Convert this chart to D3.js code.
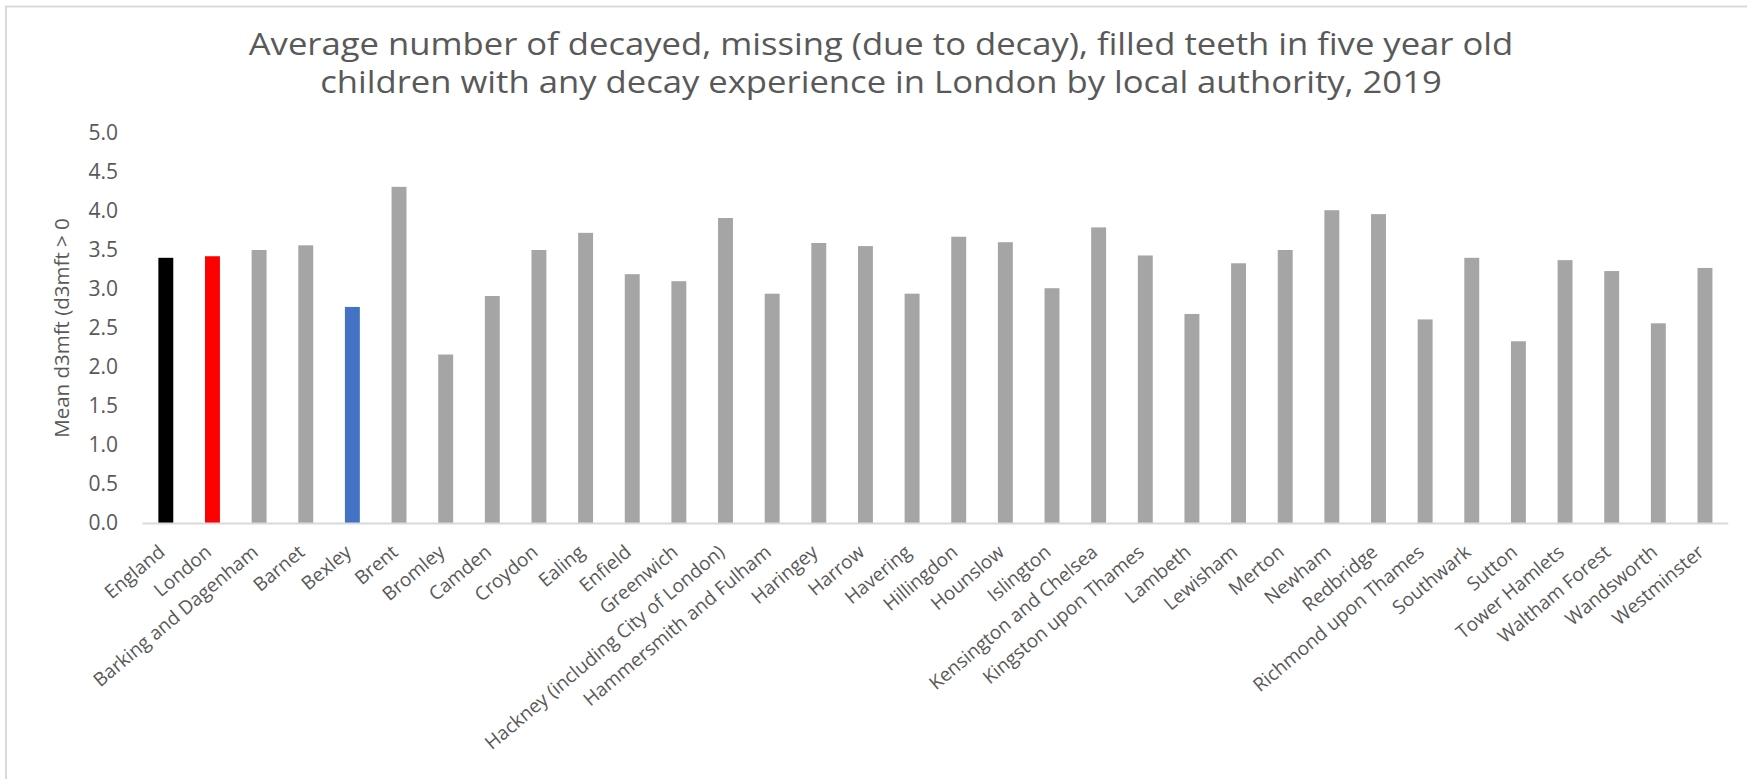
<!DOCTYPE html>
<html>
<head>
<meta charset="utf-8">
<script src="https://cdn.jsdelivr.net/npm/d3@7/dist/d3.min.js"></script>
<style>
  html, body { margin: 0; padding: 0; background: #ffffff; }
  svg { display: block; }
  text { font-family: "Open Sans", "Noto Sans", sans-serif; fill: #595959; }
</style>
</head>
<body>
<svg id="chart" width="1747" height="779"></svg>
<script>
// Local authorities (plus England and London comparators)
const categories = [
  "England", "London", "Barking and Dagenham", "Barnet", "Bexley", "Brent",
  "Bromley", "Camden", "Croydon", "Ealing", "Enfield", "Greenwich",
  "Hackney (including City of London)", "Hammersmith and Fulham", "Haringey",
  "Harrow", "Havering", "Hillingdon", "Hounslow", "Islington",
  "Kensington and Chelsea", "Kingston upon Thames", "Lambeth", "Lewisham",
  "Merton", "Newham", "Redbridge", "Richmond upon Thames", "Southwark",
  "Sutton", "Tower Hamlets", "Waltham Forest", "Wandsworth", "Westminster"
];

// Mean d3mft among five year olds with any decay experience, 2019
const values = [
  3.40, 3.42, 3.50, 3.56, 2.77, 4.31,
  2.16, 2.91, 3.50, 3.72, 3.19, 3.10,
  3.91, 2.94, 3.59,
  3.55, 2.94, 3.67, 3.60, 3.01,
  3.79, 3.43, 2.68, 3.33,
  3.50, 4.01, 3.96, 2.61, 3.40,
  2.33, 3.37, 3.23, 2.56, 3.27
];

const yTickValues = [0, 0.5, 1, 1.5, 2, 2.5, 3, 3.5, 4, 4.5, 5];

const titleLines = [
  "Average number of decayed, missing (due to decay), filled teeth in five year old",
  "children with any decay experience in London by local authority, 2019"
];
const yAxisTitle = "Mean d3mft (d3mft > 0";

// Bar colours: comparators and Bexley are picked out, the rest are grey
const highlight = { "England": "#000000", "London": "#ff0000", "Bexley": "#4472c4" };
const defaultBar = "#a5a5a5";

const FONT = "'Open Sans', 'Noto Sans', sans-serif";
const svg = d3.select("#chart");

// Frame lines (left and top)
svg.append("path")
  .attr("d", "M6,779 L6,6.5 L1747,6.5")
  .attr("fill", "none")
  .attr("stroke", "#d9d9d9")
  .attr("stroke-width", 2);

const plot = { left: 142.5, right: 1728.3, top: 133, bottom: 523 };

const x = d3.scaleBand()
  .domain(categories)
  .range([plot.left, plot.right])
  .paddingInner(0.68)
  .paddingOuter(0.34);

const y = d3.scaleLinear()
  .domain([0, 5])
  .range([plot.bottom, plot.top]);

// Title: two centred lines, set slightly wide
const titleWiden = 1.117;
titleLines.forEach((line, i) => {
  const t = svg.append("text")
    .attr("x", 881)
    .attr("y", 55 + i * 38)
    .attr("text-anchor", "middle")
    .style("font-size", "31px")
    .text(line);
  const len = t.node().getComputedTextLength();
  t.attr("textLength", len * titleWiden).attr("lengthAdjust", "spacingAndGlyphs");
});

// Y axis tick labels
const yAxis = d3.axisLeft(y)
  .tickValues(yTickValues)
  .tickFormat(d3.format(".1f"))
  .tickSize(0)
  .tickPadding(0);
const gy = svg.append("g")
  .attr("transform", `translate(118,0)`)
  .call(yAxis);
gy.select(".domain").remove();
gy.selectAll("text")
  .style("font-size", "21px")
  .style("font-family", FONT)
  .attr("fill", "#595959");

// Y axis title
svg.append("text")
  .attr("transform", `translate(62,${(plot.top + plot.bottom) / 2}) rotate(-90)`)
  .attr("text-anchor", "middle")
  .attr("dy", "0.35em")
  .style("font-size", "20.5px")
  .text(yAxisTitle);

// Bars
svg.append("g")
  .selectAll("rect")
  .data(categories.map((c, i) => ({ c, v: values[i] })))
  .join("rect")
  .attr("x", d => x(d.c))
  .attr("width", x.bandwidth())
  .attr("y", d => y(d.v))
  .attr("height", d => y(0) - y(d.v))
  .attr("fill", d => highlight[d.c] || defaultBar);

// Category axis line
svg.append("line")
  .attr("x1", plot.left)
  .attr("x2", plot.right)
  .attr("y1", y(0) + 0.5)
  .attr("y2", y(0) + 0.5)
  .attr("stroke", "#d9d9d9")
  .attr("stroke-width", 2);

// Category labels, slanted
const xAxis = d3.axisBottom(x).tickSize(0).tickPadding(0);
const gx = svg.append("g")
  .attr("transform", `translate(0,${plot.bottom})`)
  .call(xAxis);
gx.select(".domain").remove();
gx.selectAll(".tick text")
  .style("font-size", "19px")
  .style("font-family", FONT)
  .attr("fill", "#595959")
  .attr("text-anchor", "end")
  .attr("y", 0)
  .attr("dy", "0.35em")
  .attr("transform", "translate(-4,26) rotate(-40)");
</script>
</body>
</html>
